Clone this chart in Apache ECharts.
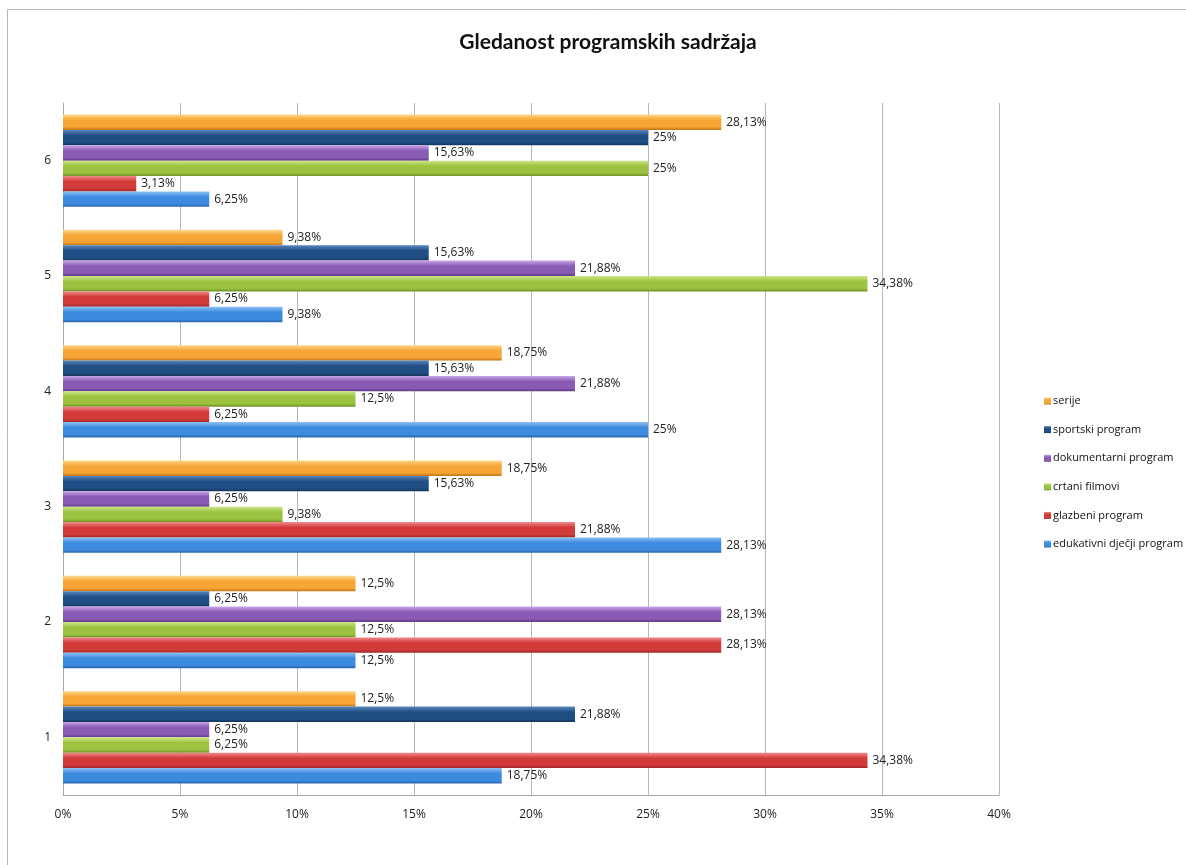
<!DOCTYPE html>
<html>
<head>
<meta charset="utf-8">
<script src="https://cdn.jsdelivr.net/npm/echarts@6/dist/echarts.min.js"></script>
<style>
html,body{margin:0;padding:0;background:#fff;}
#chart{width:1186px;height:865px;}
</style>
</head>
<body>
<div id="chart"></div>
<script>
const categories = ['1','2','3','4','5','6'];
const serije = [12.5, 12.5, 18.75, 18.75, 9.38, 28.13];
const sportski = [21.88, 6.25, 15.63, 15.63, 15.63, 25];
const dokumentarni = [6.25, 28.13, 6.25, 21.88, 21.88, 15.63];
const crtani = [6.25, 12.5, 9.38, 12.5, 34.38, 25];
const glazbeni = [34.38, 28.13, 21.88, 6.25, 6.25, 3.13];
const edukativni = [18.75, 12.5, 28.13, 25, 9.38, 6.25];
const seriesNames = ['serije','sportski program','dokumentarni program','crtani filmovi','glazbeni program','edukativni dječji program'];
const seriesData = [serije, sportski, dokumentarni, crtani, glazbeni, edukativni];
const palettes = [
  ['#fdd88a','#f7a535','#c27515'],
  ['#5a86bd','#1f4e85','#143459'],
  ['#c9a6ea','#8a5bb5','#5f3a85'],
  ['#cde68a','#9bc33f','#6f8f25'],
  ['#f28a8a','#d33b3b','#9e2626'],
  ['#8cc0f2','#3d8be0','#2a66ad']
];
const font = "'Open Sans', 'Liberation Sans', sans-serif";
function grad(p){
  return new echarts.graphic.LinearGradient(0,0,0,1,[
    {offset:0,color:p[0]},{offset:0.35,color:p[1]},{offset:0.8,color:p[1]},{offset:1,color:p[2]}
  ]);
}
function fmt(v){ return String(v).replace('.', ',') + '%'; }
const chart = echarts.init(document.getElementById('chart'));
chart.setOption({
  backgroundColor:'#fff',
  animation:false,
  title:{
    text:'Gledanost programskih sadržaja',
    top:27, left:603, textAlign:'center',
    textStyle:{fontFamily:"Lato, 'Open Sans', sans-serif",fontSize:21,fontWeight:'bold',color:'#111'}
  },
  graphic:[{type:'rect',shape:{x:7.5,y:9.5,width:1200,height:900},style:{fill:'none',stroke:'#b8b8b8',lineWidth:1},silent:true,z:-1}],
  legend:{
    orient:'vertical', left:1039, top:388, itemGap:12.6,
    itemWidth:7, itemHeight:7, icon:'rect',
    data:seriesNames,
    textStyle:{fontFamily:font,fontSize:11,color:'#111',padding:[0,0,0,-3],lineHeight:16}
  },
  grid:{left:63,right:187,top:103,bottom:70,containLabel:false},
  xAxis:{
    type:'value',min:0,max:40,interval:5,
    axisLine:{show:true,lineStyle:{color:'#a8a8a8'}},
    axisTick:{show:false},
    splitLine:{show:true,lineStyle:{color:'#b8b8b8'}},
    axisLabel:{formatter:function(v){return v+'%';},margin:14,fontFamily:font,fontSize:12,color:'#222'}
  },
  yAxis:{
    type:'category',data:categories,
    axisLine:{show:true,lineStyle:{color:'#a8a8a8'}},
    axisTick:{show:false},
    axisLabel:{margin:12,fontFamily:font,fontSize:12,color:'#222'}
  },
  series: seriesNames.map(function(n,i){
    return {
      name:n,type:'bar',data:seriesData[i],
      barGap:'0%',barCategoryGap:'20%',
      itemStyle:{color:grad(palettes[i])},
      label:{show:true,position:'right',distance:5,formatter:function(p){return fmt(p.value);},fontFamily:font,fontSize:12,color:'#222'}
    };
  })
});
</script>
</body>
</html>
